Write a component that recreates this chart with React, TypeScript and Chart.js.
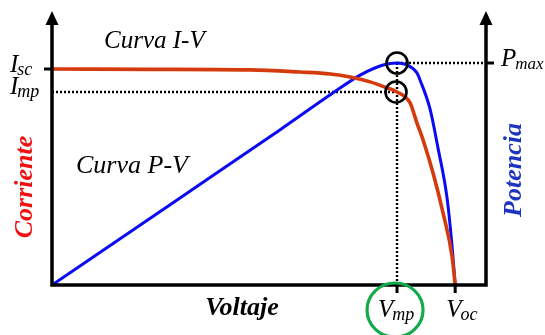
import React, { useEffect, useRef } from "react";
import { Chart, registerables } from "chart.js";

Chart.register(...registerables);

// I-V curve (current vs voltage), arbitrary units
const ivVoltage = [0, 22.6, 45.6, 57.1, 64.1, 68.7, 73.3, 76.7, 79.5, 82.5, 84.1, 85.5, 87.8, 90.1, 92.2, 92.9];
const ivCurrent = [79.1, 79.0, 78.8, 78.0, 77.3, 76.2, 74.4, 72.5, 70.7, 66.7, 59.3, 53.1, 41.0, 26.4, 10.3, 0];

// P-V curve (power vs voltage)
const pvVoltage = [0, 29.5, 52.5, 64.7, 71.0, 76.3, 79.5, 81.8, 84.1, 84.8, 87.1, 88.9, 91.0, 92.2, 92.9];
const pvPower = [0, 31.9, 56.8, 70.3, 76.9, 80.6, 81.3, 80.6, 77.7, 75.1, 64.5, 50.5, 32.2, 13.9, 0];

// Key points
const V_MP = 79.5;
const V_OC = 92.9;
const I_SC = 79.1;
const I_MP = 70.7;
const P_MAX = 81.3;

// Labels
const curveLabels = ["Curva I-V", "Curva P-V"];
const axisTitles = ["Voltaje", "Corriente", "Potencia"];

const SERIF = '"Liberation Serif", "Times New Roman", serif';
const RED = "#d43a0c";
const BLUE = "#0a0af5";

function subLabel(ctx: CanvasRenderingContext2D, main: string, sub: string, x: number, base: number, mainSize: number, subSize: number, subDrop: number, color = "#000") {
  ctx.fillStyle = color;
  ctx.textAlign = "left";
  ctx.textBaseline = "alphabetic";
  ctx.font = `italic ${mainSize}px ${SERIF}`;
  ctx.fillText(main, x, base);
  const w = ctx.measureText(main).width;
  ctx.font = `italic ${subSize}px ${SERIF}`;
  ctx.fillText(sub, x + w - 1, base + subDrop);
}

function subWidth(ctx: CanvasRenderingContext2D, main: string, sub: string, mainSize: number, subSize: number) {
  ctx.font = `italic ${mainSize}px ${SERIF}`;
  const a = ctx.measureText(main).width;
  ctx.font = `italic ${subSize}px ${SERIF}`;
  return a + ctx.measureText(sub).width - 1;
}

const overlay = {
  id: "overlay",
  beforeDatasetsDraw(chart: any) {
    const { ctx, scales, chartArea } = chart;
    const xs = scales.x, ys = scales.y, yp = scales.y1;
    const xmp = xs.getPixelForValue(V_MP);
    const yimp = ys.getPixelForValue(I_MP);
    const ypm = yp.getPixelForValue(P_MAX);
    ctx.save();
    ctx.strokeStyle = "#000";
    ctx.lineWidth = 2.4;
    ctx.setLineDash([2, 2]);
    ctx.beginPath();
    ctx.moveTo(chartArea.left, yimp);
    ctx.lineTo(xmp, yimp);
    ctx.moveTo(xmp, ypm);
    ctx.lineTo(chartArea.right, ypm);
    ctx.moveTo(xmp, ypm);
    ctx.lineTo(xmp, chartArea.bottom);
    ctx.stroke();
    ctx.restore();
  },
  afterDatasetsDraw(chart: any) {
    const { ctx, scales, chartArea } = chart;
    const xs = scales.x, ys = scales.y, yp = scales.y1;
    const L = chartArea.left, R = chartArea.right, B = chartArea.bottom, T = chartArea.top;
    const xmp = xs.getPixelForValue(V_MP);
    const xoc = xs.getPixelForValue(V_OC);
    const yisc = ys.getPixelForValue(I_SC);
    const yimp = ys.getPixelForValue(I_MP);
    const ypm = yp.getPixelForValue(P_MAX);
    ctx.save();
    ctx.setLineDash([]);
    // axes
    ctx.strokeStyle = "#000";
    ctx.lineWidth = 3.5;
    ctx.lineCap = "butt";
    ctx.beginPath();
    ctx.moveTo(L, T + 10);
    ctx.lineTo(L, B);
    ctx.moveTo(R, T + 10);
    ctx.lineTo(R, B);
    ctx.moveTo(L - 1.75, B);
    ctx.lineTo(R + 1.75, B);
    ctx.stroke();
    // arrows
    ctx.fillStyle = "#000";
    for (const ax of [L, R]) {
      ctx.beginPath();
      ctx.moveTo(ax, T - 1);
      ctx.lineTo(ax - 6.5, T + 13);
      ctx.lineTo(ax + 6.5, T + 13);
      ctx.closePath();
      ctx.fill();
    }
    // ticks
    ctx.lineWidth = 3;
    ctx.beginPath();
    ctx.moveTo(L - 8, yisc);
    ctx.lineTo(L, yisc);
    ctx.moveTo(R, ypm);
    ctx.lineTo(R + 8, ypm);
    ctx.moveTo(xmp, B);
    ctx.lineTo(xmp, B + 8);
    ctx.moveTo(xoc, B);
    ctx.lineTo(xoc, B + 8);
    ctx.stroke();
    // circles at max power point
    ctx.lineWidth = 2.6;
    ctx.beginPath();
    ctx.arc(xmp, ypm, 10.5, 0, Math.PI * 2);
    ctx.stroke();
    ctx.beginPath();
    ctx.arc(xmp - 1, yimp, 10.5, 0, Math.PI * 2);
    ctx.stroke();
    // green ellipse around Vmp
    ctx.strokeStyle = "#12ab4c";
    ctx.lineWidth = 3.2;
    ctx.beginPath();
    ctx.ellipse(xmp - 2, B + 25, 28, 27, 0, 0, Math.PI * 2);
    ctx.stroke();

    // tick labels
    subLabel(ctx, "I", "sc", 10, yisc + 3, 25, 18, 3);
    subLabel(ctx, "I", "mp", 10, yimp + 2, 25, 18, 3);
    subLabel(ctx, "P", "max", R + 15, ypm + 3, 25, 17, 3);
    const wv = subWidth(ctx, "V", "mp", 25, 18);
    subLabel(ctx, "V", "mp", xmp - wv / 2 - 1, B + 32, 25, 18, 3);
    subLabel(ctx, "V", "oc", xoc - 9, B + 32, 25, 18, 3);

    // curve labels
    ctx.fillStyle = "#000";
    ctx.textAlign = "left";
    ctx.font = `italic 25px ${SERIF}`;
    ctx.fillText(curveLabels[0], 104, 48);
    ctx.font = `italic 26px ${SERIF}`;
    ctx.fillText(curveLabels[1], 76, 173);

    // axis titles
    ctx.font = `bold italic 26px ${SERIF}`;
    ctx.textAlign = "center";
    ctx.fillStyle = "#000";
    ctx.fillText(axisTitles[0], 242, B + 30);

    ctx.save();
    ctx.translate(32, 187);
    ctx.rotate(-Math.PI / 2);
    ctx.fillStyle = "#f01010";
    ctx.fillText(axisTitles[1], 0, 0);
    ctx.restore();

    ctx.save();
    ctx.translate(521, 170);
    ctx.rotate(-Math.PI / 2);
    ctx.fillStyle = "#1c34c0";
    ctx.fillText(axisTitles[2], 0, 0);
    ctx.restore();

    ctx.restore();
  },
};

export default function App() {
  const ref = useRef<HTMLCanvasElement | null>(null);
  useEffect(() => {
    document.body.style.margin = "0";
    const canvas = ref.current;
    if (!canvas) return;
    const chart = new Chart(canvas, {
      type: "line",
      data: {
        datasets: [
          {
            label: "I-V",
            data: ivVoltage.map((v, i) => ({ x: v, y: ivCurrent[i] })),
            borderColor: RED,
            borderWidth: 3.6,
            pointRadius: 0,
            cubicInterpolationMode: "monotone",
            yAxisID: "y",
            fill: false,
          },
          {
            label: "P-V",
            data: pvVoltage.map((v, i) => ({ x: v, y: pvPower[i] })),
            borderColor: BLUE,
            borderWidth: 3,
            pointRadius: 0,
            cubicInterpolationMode: "monotone",
            yAxisID: "y1",
            fill: false,
          },
        ],
      },
      options: {
        responsive: false,
        animation: false,
        layout: { padding: { left: 52, right: 59, top: 12, bottom: 50 } },
        plugins: { legend: { display: false }, tooltip: { enabled: false } },
        scales: {
          x: { type: "linear", min: 0, max: 100, display: false },
          y: { type: "linear", min: 0, max: 100, display: false },
          y1: { type: "linear", min: 0, max: 100, display: false },
        },
      },
      plugins: [overlay],
    } as any);
    return () => chart.destroy();
  }, []);
  return (
    <div style={{ width: 545, height: 335, background: "#fff" }}>
      <canvas ref={ref} width={545} height={335} style={{ display: "block" }} />
    </div>
  );
}
